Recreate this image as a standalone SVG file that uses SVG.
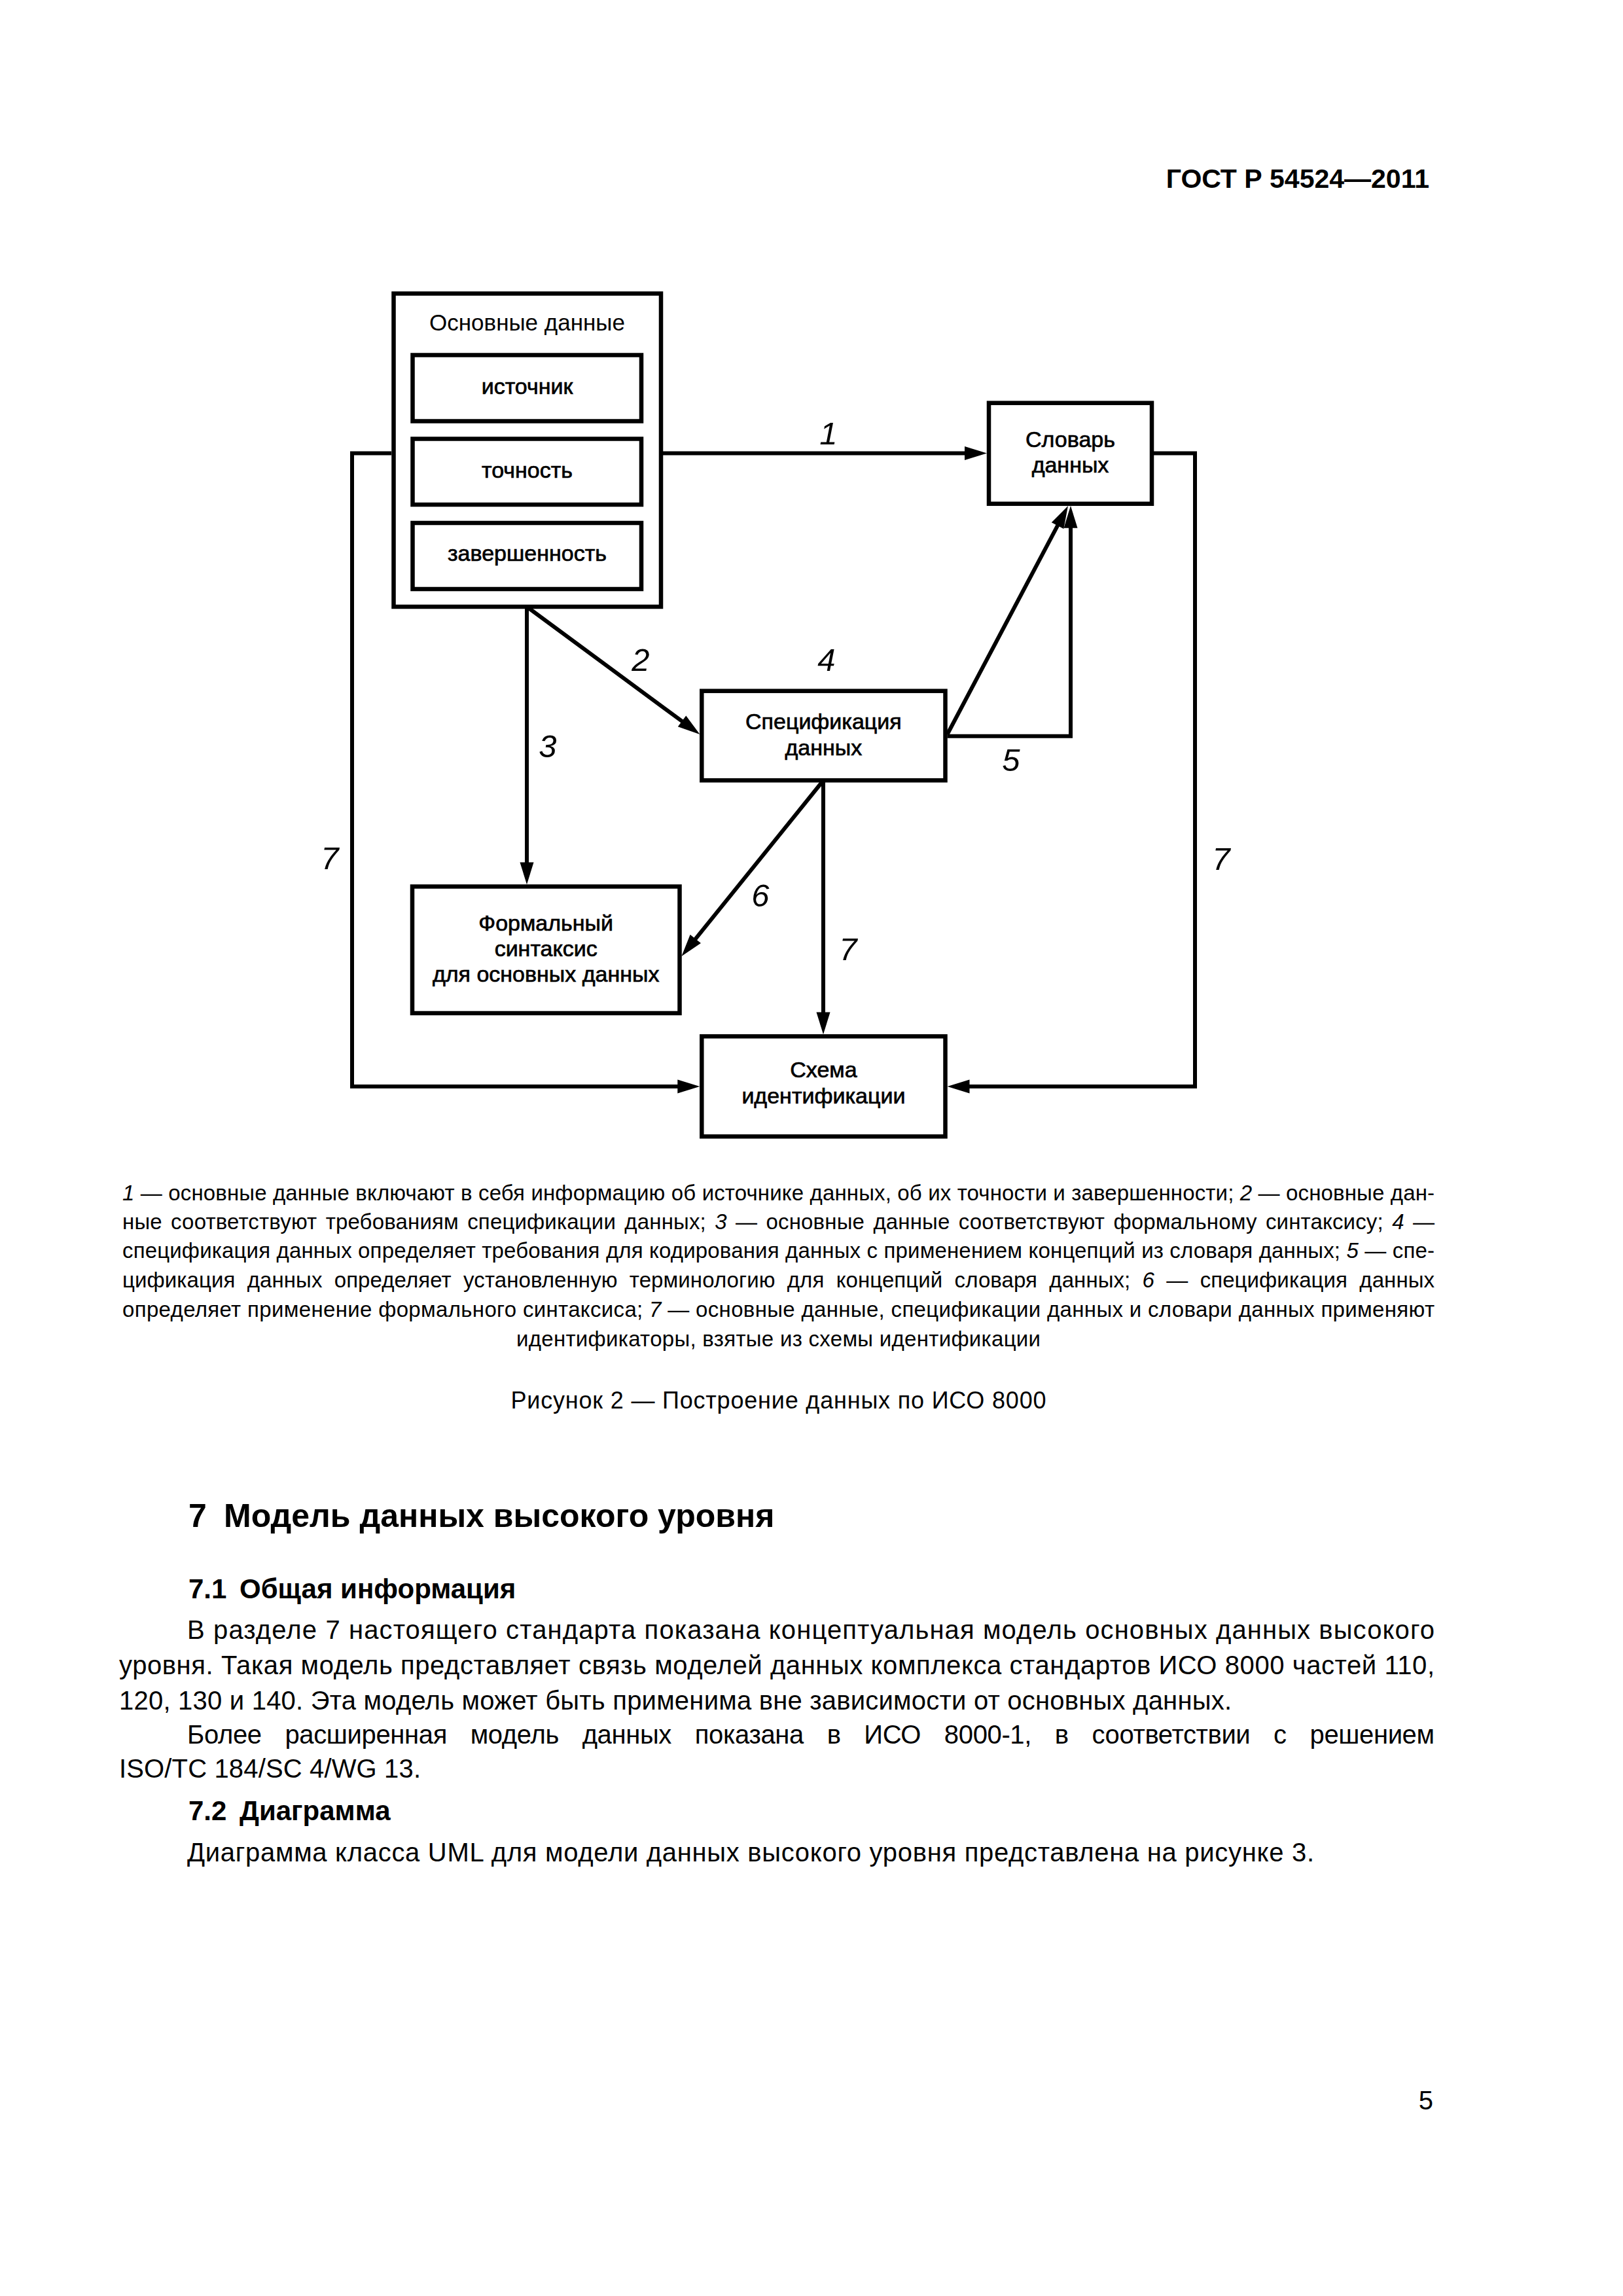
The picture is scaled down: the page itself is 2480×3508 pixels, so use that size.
<svg xmlns="http://www.w3.org/2000/svg" width="2480" height="3508" viewBox="0 0 2480 3508">
<defs>
<style>
.box{fill:#fff;stroke:#000;stroke-width:6.5}
.ln{fill:none;stroke:#000;stroke-width:6;stroke-linejoin:miter}
.t{font-family:"Liberation Sans",Arial,sans-serif;fill:#000}
.lbl{font-size:34px;text-anchor:middle;stroke:#000;stroke-width:0.7}
.ttl{font-size:35px;text-anchor:middle}
.num{font-size:49px;font-style:italic;text-anchor:middle}
.cap{font-size:33px}
.body{font-size:40px}
.b{font-weight:bold}
.i{font-style:italic}
</style>
<marker id="ah" markerUnits="userSpaceOnUse" markerWidth="40" markerHeight="24" refX="0" refY="0" orient="auto" overflow="visible">
<path d="M-14,-10.5 L20,0 L-14,10.5 Z" fill="#000"/>
</marker>
</defs>
<rect width="2480" height="3508" fill="#fff"/>

<text class="t b" x="2184" y="287" font-size="41" text-anchor="end">ГОСТ Р 54524—2011</text>

<g id="connectors">
<path id="c1" class="ln" d="M1013,692.5 H1488" marker-end="url(#ah)"/>
<path id="c2" class="ln" d="M805,927 L1053.3,1110.2" marker-end="url(#ah)"/>
<path id="c3" class="ln" d="M805,927 V1331.5" marker-end="url(#ah)"/>
<path id="c4" class="ln" d="M1447.5,1122 L1622.6,790.7" marker-end="url(#ah)"/>
<path id="c5" class="ln" d="M1447.5,1124.7 H1636 V792.7" marker-end="url(#ah)"/>
<path id="c6" class="ln" d="M1256,1195 L1054,1445.4" marker-end="url(#ah)"/>
<path id="c7a" class="ln" d="M1258,1195 V1560.4" marker-end="url(#ah)"/>
<path id="c7b" class="ln" d="M598,692.5 H538 V1660 H1049.3" marker-end="url(#ah)"/>
<path id="c7c" class="ln" d="M1763,692.5 H1826 V1660 H1467.5" marker-end="url(#ah)"/>
</g>

<g id="labels">
<text class="t num" x="1266" y="679">1</text>
<text class="t num" x="979" y="1025">2</text>
<text class="t num" x="837" y="1157">3</text>
<text class="t num" x="1263" y="1025">4</text>
<text class="t num" x="1545" y="1178">5</text>
<text class="t num" x="1162" y="1385">6</text>
<text class="t num" x="1296" y="1467">7</text>
<text class="t num" x="504" y="1328">7</text>
<text class="t num" x="1866" y="1329">7</text>
</g>

<g id="node-master">
<rect class="box" x="601.5" y="448.5" width="408.5" height="478.5"/>
<text class="t ttl" x="805.5" y="505">Основные данные</text>
<g id="node-source">
<rect class="box" x="630.5" y="542.5" width="349.5" height="101"/>
<text class="t lbl" x="805.5" y="602">источник</text>
</g>
<g id="node-accuracy">
<rect class="box" x="630.5" y="670.5" width="349.5" height="100.5"/>
<text class="t lbl" x="805.5" y="730">точность</text>
</g>
<g id="node-completeness">
<rect class="box" x="630.5" y="799" width="349.5" height="101"/>
<text class="t lbl" x="805.5" y="857">завершенность</text>
</g>
</g>

<g id="node-dictionary">
<rect class="box" x="1511" y="615.7" width="249" height="154"/>
<text class="t lbl" x="1635.5" y="683">Словарь</text>
<text class="t lbl" x="1635.5" y="722">данных</text>
</g>

<g id="node-specification">
<rect class="box" x="1072.3" y="1055.7" width="372.2" height="136.6"/>
<text class="t lbl" x="1258.4" y="1114">Спецификация</text>
<text class="t lbl" x="1258.4" y="1154">данных</text>
</g>

<g id="node-syntax">
<rect class="box" x="630" y="1354.5" width="408.5" height="193.5"/>
<text class="t lbl" x="834.2" y="1422">Формальный</text>
<text class="t lbl" x="834.2" y="1461">синтаксис</text>
<text class="t lbl" x="834.2" y="1500">для основных данных</text>
</g>

<g id="node-identification">
<rect class="box" x="1072.3" y="1583.4" width="372.2" height="153"/>
<text class="t lbl" x="1258.4" y="1646">Схема</text>
<text class="t lbl" x="1258.4" y="1686">идентификации</text>
</g>

<g id="legend" class="t cap">
<text x="187" y="1834" textLength="2005" lengthAdjust="spacing"><tspan class="i">1</tspan> — основные данные включают в себя информацию об источнике данных, об их точности и завершенности; <tspan class="i">2</tspan> — основные дан-</text>
<text x="187" y="1878" textLength="2005" lengthAdjust="spacing" word-spacing="4">ные соответствуют требованиям спецификации данных; <tspan class="i">3</tspan> — основные данные соответствуют формальному синтаксису; <tspan class="i">4</tspan> —</text>
<text x="187" y="1922" textLength="2005" lengthAdjust="spacing">спецификация данных определяет требования для кодирования данных с применением концепций из словаря данных; <tspan class="i">5</tspan> — спе-</text>
<text x="187" y="1967" textLength="2005" lengthAdjust="spacing" word-spacing="9">цификация данных определяет установленную терминологию для концепций словаря данных; <tspan class="i">6</tspan> — спецификация данных</text>
<text x="187" y="2012" textLength="2005" lengthAdjust="spacing">определяет применение формального синтаксиса; <tspan class="i">7</tspan> — основные данные, спецификации данных и словари данных применяют</text>
<text x="1189.5" y="2057" text-anchor="middle" textLength="801" lengthAdjust="spacing">идентификаторы, взятые из схемы идентификации</text>
</g>

<text class="t" x="1189.5" y="2152" font-size="36" text-anchor="middle" textLength="818" lengthAdjust="spacing">Рисунок 2 — Построение данных по ИСО 8000</text>

<g id="section" class="t">
<text class="b" x="288" y="2333" font-size="50">7<tspan x="342">Модель данных высокого уровня</tspan></text>
<text class="b" x="288" y="2442" font-size="42">7.1<tspan x="366">Общая информация</tspan></text>
<text class="body" x="286" y="2504" textLength="1906" lengthAdjust="spacing">В разделе 7 настоящего стандарта показана концептуальная модель основных данных высокого</text>
<text class="body" x="182" y="2558" textLength="2010" lengthAdjust="spacing">уровня. Такая модель представляет связь моделей данных комплекса стандартов ИСО 8000 частей 110,</text>
<text class="body" x="182" y="2612" textLength="1700" lengthAdjust="spacing">120, 130 и 140. Эта модель может быть применима вне зависимости от основных данных.</text>
<text class="body" x="286" y="2664" textLength="1906" lengthAdjust="spacing" word-spacing="25">Более расширенная модель данных показана в ИСО 8000-1, в соответствии с решением</text>
<text class="body" x="182" y="2716" textLength="461" lengthAdjust="spacing">ISO/TC 184/SC 4/WG 13.</text>
<text class="b" x="288" y="2781" font-size="42">7.2<tspan x="366">Диаграмма</tspan></text>
<text class="body" x="286" y="2844" textLength="1722" lengthAdjust="spacing">Диаграмма класса UML для модели данных высокого уровня представлена на рисунке 3.</text>
</g>

<text class="t" x="2190" y="3223" font-size="40" text-anchor="end">5</text>
</svg>
